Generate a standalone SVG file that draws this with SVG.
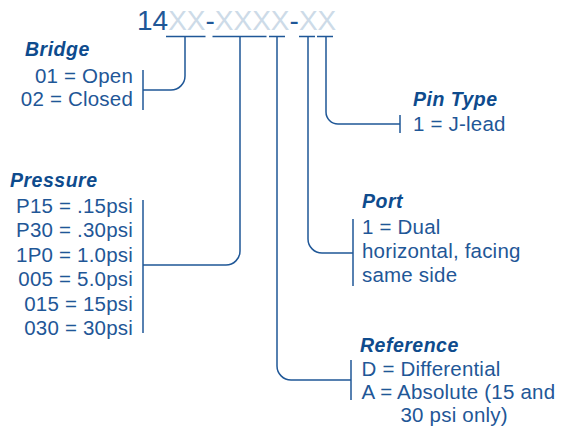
<svg xmlns="http://www.w3.org/2000/svg" width="569" height="429" viewBox="0 0 569 429">
<style>
.t{font-family:"Liberation Sans",Arial,sans-serif;font-size:20.5px;letter-spacing:0.2px;fill:#1f5797}
.h{font-family:"Liberation Sans",Arial,sans-serif;font-size:19.5px;letter-spacing:0.5px;font-weight:bold;font-style:italic;fill:#0e4b8d}
.e{text-anchor:end}
.ln{fill:none;stroke:#1f5797;stroke-width:1.5}
.hd{font-family:"Liberation Sans",Arial,sans-serif;font-size:28px;fill:#1f5797}
.lt{fill:#cddbe8}
</style>
<rect width="569" height="429" fill="#ffffff"/>
<g id="header">
<text class="hd" x="137" y="30">14<tspan class="lt">XX</tspan>-<tspan class="lt">XXXX</tspan>-<tspan class="lt">XX</tspan></text>
</g>
<g id="connectors" class="ln">
<path d="M166,36.5H205.5M212.5,36.5H266.5M269,36.5H285M299,36.5H315M317,36.5H333"/>
<path d="M185,37V76A14,14 0 0 1 171,90H143"/>
<path d="M143,70V110"/>
<path d="M240,37V251A14,14 0 0 1 226,265H143"/>
<path d="M143,200V333"/>
<path d="M326,37V112A12,12 0 0 0 338,124H400"/>
<path d="M400,115V133"/>
<path d="M308,37V239A14,14 0 0 0 322,253H353"/>
<path d="M353,219V286"/>
<path d="M277,37V366A14,14 0 0 0 291,380H351"/>
<path d="M351,360V400"/>
</g>
<g id="bridge">
<text class="h" x="25" y="56">Bridge</text>
<text class="t e" x="133" y="82.5">01 = Open</text>
<text class="t e" x="133" y="106">02 = Closed</text>
</g>
<g id="pressure">
<text class="h" x="10" y="187">Pressure</text>
<text class="t e" x="133" y="212.5">P15 = .15psi</text>
<text class="t e" x="133" y="237">P30 = .30psi</text>
<text class="t e" x="133" y="261.5">1P0 = 1.0psi</text>
<text class="t e" x="133" y="286">005 = 5.0psi</text>
<text class="t e" x="133" y="310.5">015 = 15psi</text>
<text class="t e" x="133" y="335">030 = 30psi</text>
</g>
<g id="pintype">
<text class="h" x="413" y="106">Pin Type</text>
<text class="t" x="413" y="130.5">1 = J-lead</text>
</g>
<g id="port">
<text class="h" x="362" y="208">Port</text>
<text class="t" x="362" y="234">1 = Dual</text>
<text class="t" x="362" y="258">horizontal, facing</text>
<text class="t" x="362" y="282">same side</text>
</g>
<g id="reference">
<text class="h" x="360" y="351.5">Reference</text>
<text class="t" x="361.5" y="376">D = Differential</text>
<text class="t" x="361.5" y="399">A = Absolute (15 and</text>
<text class="t" x="400.5" y="422">30 psi only)</text>
</g>
</svg>
